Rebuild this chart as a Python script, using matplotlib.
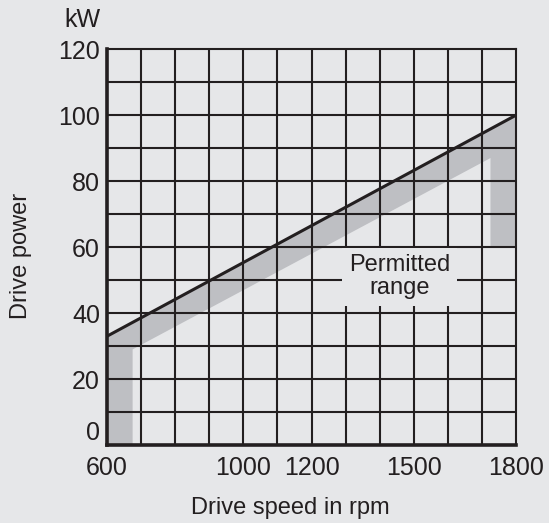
import matplotlib
matplotlib.use("Agg")
from matplotlib import pyplot as plt
import numpy as np

plt.rcParams['font.family'] = ['Liberation Sans', 'DejaVu Sans']

# data
x_ticks = [600, 1000, 1200, 1500, 1800]
y_ticks = [0, 20, 40, 60, 80, 100, 120]

# upper limit line (rpm, kW)
limit_speed = [600, 1800]
limit_power = [33, 100]

# permitted range band outline (rpm, kW)
band_speed = [600, 600, 1800, 1800, 1725, 1725, 675, 675]
band_power = [0, 33, 100, 60, 60, 87, 29, 0]

bg = "#E6E7E9"
band_col = "#BEBFC3"
ink = "#231F20"

fig = plt.figure(figsize=(5.49, 5.23), dpi=100, facecolor=bg)
ax = fig.add_axes([0.195, 0.149, 0.745, 0.757])
ax.set_facecolor(bg)

ax.fill(band_speed, band_power, color=band_col, lw=0, zorder=1)

# grid every 100 rpm / 10 kW
for gx in range(700, 1800, 100):
    ax.axvline(gx, color=ink, lw=1.5, zorder=2)
for gy in range(10, 120, 10):
    ax.axhline(gy, color=ink, lw=1.5, zorder=2)

ax.plot(limit_speed, limit_power, color=ink, lw=2.2, zorder=4,
        solid_capstyle='butt')

ax.text(1458, 51, "Permitted\nrange", ha='center', va='center', fontsize=17,
        color=ink, linespacing=1.05, zorder=5,
        bbox=dict(facecolor=bg, edgecolor='none', pad=5))

ax.set_xlim(600, 1800)
ax.set_ylim(0, 120)
ax.set_xticks(x_ticks)
ax.set_yticks(y_ticks)
ax.tick_params(length=0, labelsize=18, colors=ink)
ax.tick_params(axis='y', pad=5)
ax.tick_params(axis='x', pad=8)
# lift the "0" label a little, as in the original
ax.get_yticklabels()[0].set_verticalalignment('bottom')

for side in ['top', 'right']:
    ax.spines[side].set_linewidth(1.5)
    ax.spines[side].set_color(ink)
for side in ['left', 'bottom']:
    ax.spines[side].set_linewidth(2.6)
    ax.spines[side].set_color(ink)

fig.text(0.528, 0.029, "Drive speed in rpm", fontsize=17, color=ink,
         ha='center', va='center')
fig.text(0.038, 0.51, "Drive power", fontsize=17, color=ink, rotation=90,
         ha='center', va='center')
fig.text(0.151, 0.962, "kW", fontsize=18, color=ink, ha='center', va='center')

plt.savefig("out.png", facecolor=bg)
